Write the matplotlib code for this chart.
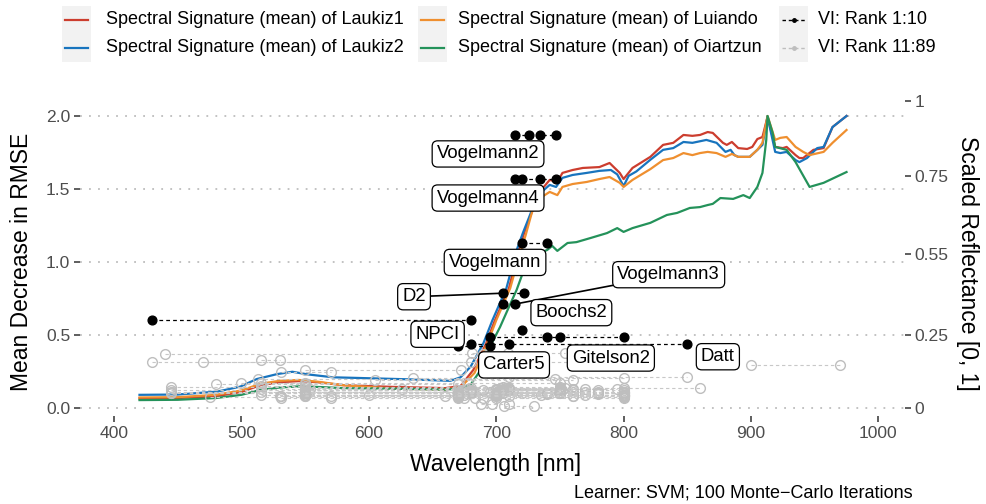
import matplotlib
matplotlib.use('Agg')
import matplotlib.pyplot as plt
from matplotlib.patches import Rectangle
from matplotlib.lines import Line2D

plt.rcParams['font.family'] = ['Liberation Sans', 'DejaVu Sans']

# ---- mean spectral signatures (scaled reflectance, 0..1) ----
laukiz1_wl = [420, 450, 480, 500, 515, 530, 545, 560, 580, 620,
              660, 672, 682, 692, 699, 705, 710, 717, 722, 727,
              731, 737, 742, 748, 752, 760, 768, 781, 789, 797,
              800, 807, 821, 831, 839, 847, 854, 860, 866, 870,
              878, 881, 885, 890, 897, 901, 905, 909, 913, 919,
              925, 928, 935, 938, 941, 949, 957, 964, 975]
laukiz1_refl = [.033, .034, .040, .055, .078, .088, .092, .088, .078, .072,
                .068, .075, .130, .220, .300, .360, .410, .530, .600, .660,
                .700, .755, .781, .774, .805, .815, .822, .825, .839, .805,
                .784, .822, .860, .901, .908, .935, .932, .935, .945, .942,
                .908, .901, .911, .890, .887, .894, .921, .928, .997, .894,
                .890, .894, .866, .856, .856, .884, .890, .962, 1.0]

laukiz2_wl = [420, 450, 481, 499, 512, 528, 540, 552, 572, 590,
              632, 664, 672, 680, 690, 697, 703, 708, 716, 721,
              726, 730, 737, 742, 747, 752, 760, 771, 781, 790,
              795, 800, 804, 810, 821, 831, 839, 847, 854, 865,
              873, 880, 884, 887, 890, 899, 905, 909, 913, 919,
              923, 928, 935, 938, 944, 952, 957, 964, 975]
laukiz2_refl = [.045, .046, .056, .073, .099, .116, .124, .115, .105, .103,
                .098, .093, .105, .142, .222, .300, .360, .410, .540, .600,
                .655, .700, .745, .764, .757, .788, .798, .805, .812, .815,
                .800, .760, .795, .810, .850, .884, .890, .911, .908, .918,
                .908, .877, .884, .866, .860, .860, .884, .901, .997, .877,
                .873, .877, .849, .842, .856, .890, .894, .962, 1.0]

luiando_wl = [420, 450, 480, 500, 515, 530, 545, 560, 580, 620,
              660, 672, 683, 693, 700, 706, 711, 718, 723, 729,
              737, 742, 748, 752, 760, 771, 781, 789, 797, 800,
              807, 821, 831, 839, 847, 854, 860, 866, 873, 880,
              885, 890, 899, 905, 909, 913, 919, 923, 928, 935,
              941, 946, 957, 964, 975]
luiando_refl = [.036, .037, .045, .060, .083, .093, .096, .090, .078, .066,
                .063, .070, .120, .220, .300, .360, .410, .520, .590, .685,
                .726, .740, .729, .757, .767, .774, .784, .791, .771, .757,
                .781, .818, .849, .856, .873, .866, .873, .877, .873, .860,
                .870, .860, .860, .884, .908, 1.0, .918, .925, .928, .894,
                .877, .866, .877, .908, .952]

oiartzun_wl = [420, 450, 480, 500, 515, 530, 545, 560, 580, 620,
               660, 672, 680, 687, 691, 695, 703, 709, 716, 724,
               734, 740, 744, 748, 756, 763, 774, 787, 795, 800,
               807, 821, 834, 842, 852, 860, 866, 870, 876, 886,
               894, 899, 905, 909, 912, 913, 917, 919, 928, 935,
               946, 957, 975]
oiartzun_refl = [.027, .028, .034, .045, .062, .070, .074, .072, .068, .066,
                 .063, .066, .080, .125, .160, .209, .277, .336, .404, .500,
                 .530, .541, .555, .538, .565, .568, .582, .599, .616, .603,
                 .616, .634, .661, .668, .685, .688, .695, .699, .719, .716,
                 .729, .719, .757, .805, .918, 1.0, .942, .894, .884, .842,
                 .757, .771, .808]

# ---- variable importance: top 10 indices ----
top_names = ['Vogelmann2', 'Vogelmann4', 'Vogelmann', 'D2', 'Vogelmann3',
             'NPCI', 'Boochs2', 'Gitelson2', 'Datt', 'Carter5']
top_wl = [[715, 726, 734, 747], [715, 720, 734, 747], [720, 740], [705, 722],
          [705, 715], [430, 680], [720], [695, 740, 750, 800],
          [680, 710, 850], [670, 695]]
top_value = [1.870, 1.568, 1.128, 0.786, 0.712, 0.603, 0.534, 0.484, 0.436, 0.425]

# ---- variable importance: ranks 11..89 ----
rest_names = ['SR7', 'MTCI', 'MPRI', 'SRPI', 'PSND', 'PWI', 'Datt5', 'PRI',
              'Datt2', 'PSSR', 'PARS', 'Carter3', 'PSRI', 'CRI1', 'TGI',
              'mND705', 'SR8', 'Datt6', 'Sum_Dr1', 'Boochs', 'CARI', 'Carter2',
              'Carter4', 'Carter6', 'CI', 'CI2', 'ClAInt', 'CRI2', 'CRI3', 'CRI4',
              'D1', 'Datt3', 'Datt4', 'DD', 'DDn', 'DPI', 'DWSI4', 'EVI', 'GDVI',
              'GI', 'Gitelson', 'GMI1', 'GMI2', 'GreenNDVI', 'Maccioni', 'MCARI',
              'MCARI2', 'mNDVI', 'mSR', 'mSR2', 'mSR705', 'MSAVI', 'MTVI', 'NDVI',
              'NDVI2', 'NDVI3', 'OSAVI', 'PRI_norm', 'PRI*CI2', 'RDVI', 'REP_LE',
              'REP_Li', 'SAVI', 'SIPI', 'SPVI', 'SR', 'SR1', 'SR2', 'SR3', 'SR4',
              'SR5', 'SR6', 'Sum_Dr2', 'TCARI', 'TCARI2', 'TCARI/OSAVI',
              'TCARI2/OSAVI2', 'TVI', 'MCARI/OSAVI']
rest_wl = [[440, 690], [681, 709, 754], [515, 530], [430, 680], [470, 800],
           [900, 970], [550, 672], [531, 570], [710, 850], [635, 800],
           [513, 746], [605, 760], [500, 678, 750], [515, 550], [480, 550, 670],
           [445, 705, 750], [515, 550], [550, 708, 860], [626, 795], [703],
           [550, 670, 700], [695, 760], [710, 760], [550], [675, 683, 690],
           [700, 760], [600, 735], [515, 770], [515, 550, 770], [515, 700, 770],
           [706, 730], [704, 754], [550, 672, 708], [672, 701, 720, 749],
           [660, 710, 760], [688, 697, 710], [550, 680], [475, 670, 800],
           [680, 800], [554, 677], [700], [550, 750], [700, 750], [550, 800],
           [680, 710, 780], [550, 670, 700], [550, 670, 800], [445, 680, 800],
           [445, 680, 800], [705, 750], [445, 705, 750], [670, 800],
           [550, 670, 800], [680, 800], [705, 750], [553, 682], [670, 800],
           [531, 570, 670, 700, 800], [531, 570, 700, 760], [670, 800],
           [670, 700, 740, 780], [670, 700, 740, 780], [670, 800],
           [445, 680, 800], [530, 670, 800], [680, 800], [700, 750], [690, 752],
           [550, 750], [670, 700], [675, 700], [710, 750], [680, 780],
           [550, 670, 700], [550, 705, 750], [550, 670, 700, 800],
           [550, 705, 750], [550, 670, 750], [550, 670, 700, 800]]
rest_value = [0.370, 0.374, 0.329, 0.318, 0.318, 0.295, 0.260, 0.249,
              0.215, 0.205, 0.200, 0.190, 0.169, 0.168, 0.162,
              0.146, 0.150, 0.139, 0.130, 0.100, 0.120, 0.110,
              0.130, 0.090, 0.070, 0.120, 0.090, 0.130, 0.110, 0.090,
              0.014, 0.140, 0.120, 0.100, 0.080, 0.030, 0.110, 0.073, 0.100,
              0.130, 0.110, 0.120, 0.130, 0.110, 0.120, 0.100,
              0.090, 0.105, 0.100, 0.120, 0.125, 0.090, 0.085, 0.137,
              0.130, 0.110, 0.112, 0.066, 0.080, 0.089, 0.100,
              0.095, 0.090, 0.112, 0.080, 0.120, 0.130, 0.120, 0.110, 0.100,
              0.090, 0.140, 0.110, 0.100, 0.120, 0.090,
              0.100, 0.100, 0.080]

refl_to_axis = 2.0   # scaled reflectance 1 sits at 2.0 on the importance axis

C_RED, C_BLUE, C_ORANGE, C_GREEN = '#CC3D2E', '#1874BE', '#EF8F2F', '#24925A'
GREY_PT, GREY_LN = '#BEBEBE', '#C8C8C8'

W, H = 987, 504
fig = plt.figure(figsize=(W / 100, H / 100), dpi=100)


def fx(px):
    return px / W


def fy(py):
    return 1 - py / H


ax = fig.add_axes([fx(80), fy(416), fx(905) - fx(80), fy(97) - fy(416)])
ax.set_xlim(373.3, 1020.9)
ax.set_ylim(-0.055, 2.13)
for s in ax.spines.values():
    s.set_visible(False)
ax.set_xticks([400, 500, 600, 700, 800, 900, 1000])
ax.set_yticks([0, 0.5, 1.0, 1.5, 2.0])
ax.set_yticklabels(['0.0', '0.5', '1.0', '1.5', '2.0'])
ax.grid(axis='y', color='#BDBDBD', linestyle=(0, (1, 4)), linewidth=1.3)
ax.grid(axis='x', visible=False)
ax.set_axisbelow(True)
ax.tick_params(axis='both', colors='#333333', labelcolor='#4D4D4D',
               labelsize=12.6, length=4, width=1.1, pad=3)

# spectra
for wl, refl, col in [(laukiz1_wl, laukiz1_refl, C_RED),
                      (laukiz2_wl, laukiz2_refl, C_BLUE),
                      (luiando_wl, luiando_refl, C_ORANGE),
                      (oiartzun_wl, oiartzun_refl, C_GREEN)]:
    ax.plot(wl, [r * refl_to_axis for r in refl], color=col, lw=1.6, zorder=2)

# lower ranked indices
for wl, v in zip(rest_wl, rest_value):
    wl = sorted(wl)
    ax.plot(wl, [v] * len(wl), color=GREY_LN, lw=0.8, dashes=(3, 2.5), zorder=3)
    ax.plot(wl, [v] * len(wl), ls='none', marker='o', ms=7, mfc='none',
            mec=GREY_PT, mew=1.0, zorder=3)

# top 10 indices
for wl, v in zip(top_wl, top_value):
    wl = sorted(wl)
    ax.plot(wl, [v] * len(wl), color='black', lw=0.9, dashes=(3, 2.5), zorder=4)
    ax.plot(wl, [v] * len(wl), ls='none', marker='o', ms=6.3, mfc='black',
            mec='black', zorder=4)

# repelled labels (text position, anchor wavelength, leader line)
label_pos = {
    'Vogelmann2': (693.6, 1.740, None),
    'Vogelmann4': (693.6, 1.438, None),
    'Vogelmann': (699.1, 0.997, None),
    'Vogelmann3': (835.4, 0.913, 715),
    'D2': (635.5, 0.762, 705),
    'Boochs2': (759.0, 0.653, None),
    'NPCI': (654.0, 0.505, None),
    'Carter5': (714.0, 0.295, None),
    'Gitelson2': (790.0, 0.342, None),
    'Datt': (874.0, 0.351, None),
}
box = dict(boxstyle='round,pad=0.25,rounding_size=0.3', fc='white', ec='black', lw=0.9)
for name, v in zip(top_names, top_value):
    tx, ty, anchor = label_pos[name]
    if anchor is not None:
        ax.annotate(name, xy=(anchor, v), xytext=(tx, ty), ha='center', va='center',
                    fontsize=13.3, bbox=box, zorder=6,
                    arrowprops=dict(arrowstyle='-', color='black', lw=1.2,
                                    shrinkA=0, shrinkB=0))
    else:
        ax.text(tx, ty, name, ha='center', va='center', fontsize=13.3, bbox=box,
                zorder=6)

# secondary axis
ax2 = ax.twinx()
ax2.set_ylim(ax.get_ylim())
for s in ax2.spines.values():
    s.set_visible(False)
ax2.set_yticks([0, 0.5, 1.055, 1.589, 2.103])
ax2.set_yticklabels(['0', '0.25', '0.55', '0.75', '1'])
ax2.tick_params(axis='y', colors='#333333', labelcolor='#4D4D4D',
                labelsize=12.6, length=4, width=1.1, pad=3)

fig.text(fx(22), fy(262), 'Mean Decrease in RMSE', rotation=90,
         ha='center', va='center', fontsize=16.5)
fig.text(fx(968), fy(263), 'Scaled Reflectance [0, 1]', rotation=270,
         ha='center', va='center', fontsize=16.5)
fig.text(fx(496), fy(464), 'Wavelength [nm]', ha='center', va='center', fontsize=16.5)
fig.text(fx(913), fy(493), 'Learner: SVM; 100 Monte\u2212Carlo Iterations',
         ha='right', va='center', fontsize=13)

# legend
leg_cols = [
    (62, 106, [('Spectral Signature (mean) of Laukiz1', C_RED, 'spec'),
               ('Spectral Signature (mean) of Laukiz2', C_BLUE, 'spec')]),
    (418, 458, [('Spectral Signature (mean) of Luiando', C_ORANGE, 'spec'),
                ('Spectral Signature (mean) of Oiartzun', C_GREEN, 'spec')]),
    (779, 818, [('VI: Rank 1:10', 'black', 'vi'),
                ('VI: Rank 11:89', GREY_PT, 'vi')]),
]
row_y = [20, 48]
for kx, tx, entries in leg_cols:
    for (lab, col, kind), ry in zip(entries, row_y):
        fig.patches.append(Rectangle((fx(kx), fy(ry + 14)), 29 / W, 28 / H,
                                     transform=fig.transFigure, fc='#F2F2F2', ec='none'))
        if kind == 'spec':
            fig.lines.append(Line2D([fx(kx + 3), fx(kx + 26)], [fy(ry), fy(ry)],
                                    transform=fig.transFigure, color=col, lw=1.6))
        else:
            fig.lines.append(Line2D([fx(kx + 3), fx(kx + 26)], [fy(ry), fy(ry)],
                                    transform=fig.transFigure, color=col, lw=1.0,
                                    dashes=(2.5, 2)))
            fig.lines.append(Line2D([fx(kx + 14.5)], [fy(ry)], transform=fig.transFigure,
                                    ls='none', marker='o', ms=2.5, color=col))
        fig.text(fx(tx), fy(ry), lab, ha='left', va='center', fontsize=13)

fig.savefig('out.png', dpi=100)
